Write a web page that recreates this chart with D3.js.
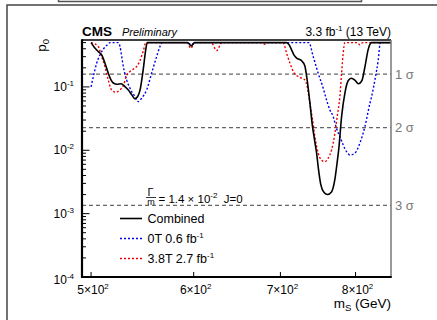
<!DOCTYPE html>
<html>
<head>
<meta charset="utf-8">
<script src="https://cdn.jsdelivr.net/npm/d3@7"></script>
<style>
  html, body { margin: 0; padding: 0; background: #fff; }
  svg { display: block; font-family: "Liberation Sans", Arial, Helvetica, sans-serif; }
</style>
</head>
<body>
<svg id="chart" width="437" height="320"></svg>
<script>
// Local p-value scan vs resonance mass (Gamma/m = 1.4e-2, J=0)
const combinedMass = [500, 503, 506.5, 509.5, 512.5, 515.5, 518, 520.5, 523.5, 527.5, 531, 534, 537.5, 540.5, 543, 545.5, 548.5, 551, 552.5,
  593.5, 597.5, 601, 707.7, 711, 714, 717, 720.5, 726.5, 731, 734, 737.5, 741, 744, 746.5, 749, 752, 756.5, 761, 766.5, 771, 774.5, 776.5,
  780.5, 785, 789.5, 794, 799, 804, 809, 813.5, 818, 823, 852];
const combinedP0 = [0.5, 0.42, 0.36, 0.32, 0.237, 0.165, 0.129, 0.114, 0.110, 0.112, 0.101, 0.090, 0.075, 0.065, 0.070, 0.090, 0.186, 0.384, 0.5,
  0.5, 0.445, 0.5, 0.5, 0.46, 0.384, 0.32, 0.284, 0.262, 0.215, 0.13, 0.058, 0.024, 0.014, 0.009, 0.005, 0.0029, 0.00215, 0.002, 0.0022, 0.0034, 0.0068, 0.0105,
  0.035, 0.08, 0.125, 0.137, 0.128, 0.112, 0.125, 0.209, 0.384, 0.5, 0.5];

const field0TMass = [500, 502, 505, 508, 511, 514, 517, 524.8, 526.4, 528, 529.5, 532.6, 535.8, 537.4, 540.5, 542.2, 543.7, 547, 551.9, 556.8, 561.8, 565.1, 567.4,
  593.5, 597.5, 601, 736.3, 742, 748.6, 755.3, 759.8, 764.3, 768.8, 773, 778, 787.3, 792, 799, 806.2, 813.4, 820.7, 823.1, 828, 832.9, 836, 852];
const field0TP0 = [0.1, 0.1455, 0.237, 0.32, 0.396, 0.45, 0.5, 0.5, 0.433, 0.301, 0.209, 0.129, 0.0953, 0.0843, 0.0703, 0.0608, 0.0586, 0.0663, 0.0897, 0.1646, 0.301, 0.433, 0.5,
  0.5, 0.46, 0.5, 0.5, 0.301, 0.1646, 0.0953, 0.0623, 0.0433, 0.034, 0.0228, 0.0164, 0.0095, 0.00843, 0.009, 0.013, 0.0237, 0.0553, 0.0703, 0.129, 0.267, 0.5, 0.5];

const field38TMass = [500, 502, 506.5, 509.5, 512.5, 515.5, 518.5, 522.3, 526.4, 529.5, 532.6, 535.8, 538.9, 542.2, 545.4, 548.6, 551.2,
  593, 597, 601, 619, 625, 631, 677, 681, 685, 703.5, 707.7, 712, 716.2, 722.6, 726.8, 731.1, 734.1, 737.6, 741.2, 744.2, 748.6, 753, 757.5, 762, 766.6, 771.2, 774.3, 778, 780.4, 782.6, 784.9,
  803, 806.2, 810, 852];
const field38TP0 = [0.5, 0.49, 0.433, 0.301, 0.209, 0.129, 0.0897, 0.0825, 0.0897, 0.105, 0.15, 0.175, 0.19, 0.21, 0.26, 0.37, 0.5,
  0.5, 0.408, 0.5, 0.5, 0.375, 0.5, 0.5, 0.47, 0.5, 0.5, 0.34, 0.237, 0.174, 0.1455, 0.137, 0.129, 0.101, 0.0553, 0.0302, 0.0164, 0.009, 0.007, 0.0066, 0.0075, 0.0101, 0.0186, 0.034, 0.0703, 0.1646, 0.34, 0.5,
  0.5, 0.46, 0.5, 0.5];

const xTickValues = [500, 600, 700, 800];
const xTickMantissa = ["5", "6", "7", "8"];
const yTickExponents = [-4, -3, -2, -1];
const sigmaP0 = [0.1587, 0.02275, 0.00135];
const sigmaLabels = ["1 σ", "2 σ", "3 σ"];
const legendLabels = ["Combined", "0T 0.6 fb", "3.8T 2.7 fb"];

const svg = d3.select("#chart");
const L = 82, R = 391, T = 40, B = 277;

const x = d3.scaleLog().domain([492, 852]).range([L, R]);
const y = d3.scaleLog().domain([1e-4, 0.55]).range([B, T]);

// outer pad frame pieces
svg.append("path").attr("d", "M7,320 V5 H437").attr("fill", "none").attr("stroke", "#444").attr("stroke-width", 1.5);
svg.append("path").attr("d", "M58.5,0 V1.5 H361.5 V0").attr("fill", "none").attr("stroke", "#555").attr("stroke-width", 1.5);

svg.append("defs").append("clipPath").attr("id", "plotclip")
  .append("rect").attr("x", L).attr("y", T).attr("width", R - L).attr("height", B - T);

// significance reference lines
svg.append("g").selectAll("line").data(sigmaP0).join("line")
  .attr("x1", L).attr("x2", R).attr("y1", d => y(d)).attr("y2", d => y(d))
  .attr("stroke", "#666").attr("stroke-width", 1.2).attr("stroke-dasharray", "4,3");
svg.append("g").selectAll("text").data(sigmaLabels).join("text")
  .attr("x", 395).attr("y", (d, i) => y(sigmaP0[i]) + 4.5)
  .attr("font-size", 13).attr("fill", "#777").text(d => d);

// curves
const line = d3.line().x(d => x(d[0])).y(d => y(d[1])).curve(d3.curveMonotoneX);
const curves = svg.append("g").attr("clip-path", "url(#plotclip)");
curves.append("path").datum(d3.zip(field0TMass, field0TP0)).attr("d", line)
  .attr("fill", "none").attr("stroke", "#0000ee").attr("stroke-width", 1.4).attr("stroke-dasharray", "2,2");
curves.append("path").datum(d3.zip(field38TMass, field38TP0)).attr("d", line)
  .attr("fill", "none").attr("stroke", "#ee0000").attr("stroke-width", 1.4).attr("stroke-dasharray", "2,2");
curves.append("path").datum(d3.zip(combinedMass, combinedP0)).attr("d", line)
  .attr("fill", "none").attr("stroke", "#000").attr("stroke-width", 1.6);

// frame
svg.append("line").attr("x1", L).attr("x2", R).attr("y1", T).attr("y2", T).attr("stroke", "#000").attr("stroke-width", 1.6);
svg.append("line").attr("x1", R).attr("x2", R).attr("y1", T).attr("y2", B).attr("stroke", "#777").attr("stroke-width", 1.5);
svg.append("line").attr("x1", L).attr("x2", R + 0.75).attr("y1", B).attr("y2", B).attr("stroke", "#000").attr("stroke-width", 2);
svg.append("line").attr("x1", L).attr("x2", L).attr("y1", T - 0.8).attr("y2", B + 1).attr("stroke", "#000").attr("stroke-width", 2.2);

// y ticks (inward), major at decades
const yTicks = y.ticks();
svg.append("g").selectAll("line").data(yTicks).join("line")
  .attr("x1", L).attr("x2", d => L + (Math.abs(Math.log10(d) - Math.round(Math.log10(d))) < 1e-6 ? 7.5 : 4))
  .attr("y1", d => y(d)).attr("y2", d => y(d))
  .attr("stroke", "#000").attr("stroke-width", 1);

const yLab = svg.append("g").selectAll("text").data(yTickExponents).join("text")
  .attr("x", 74).attr("y", d => y(Math.pow(10, d)) + 4 + (d === -4 ? 3 : 0))
  .attr("text-anchor", "end").attr("font-size", 12).attr("fill", "#000");
yLab.append("tspan").text("10");
yLab.append("tspan").attr("font-size", 8).attr("dy", -5).text(d => String(d));

// x ticks (inward)
svg.append("g").selectAll("line").data(xTickValues).join("line")
  .attr("x1", d => x(d)).attr("x2", d => x(d)).attr("y1", B).attr("y2", B - 5)
  .attr("stroke", "#000").attr("stroke-width", 1);
const xLab = svg.append("g").selectAll("text").data(xTickValues).join("text")
  .attr("x", d => x(d) + 2).attr("y", 294).attr("text-anchor", "middle").attr("font-size", 12).attr("fill", "#000");
xLab.append("tspan").text((d, i) => xTickMantissa[i] + "×10");
xLab.append("tspan").attr("font-size", 8).attr("dy", -5).text("2");

// axis titles
const xt = svg.append("text").attr("x", R).attr("y", 307.5).attr("text-anchor", "end").attr("font-size", 13.5).attr("fill", "#000");
xt.append("tspan").text("m");
xt.append("tspan").attr("font-size", 9.5).attr("dy", 3).text("S");
xt.append("tspan").attr("dy", -3).text(" (GeV)");

const yt = svg.append("text").attr("transform", "translate(46,39) rotate(-90)").attr("text-anchor", "end").attr("font-size", 13.5).attr("fill", "#000");
yt.append("tspan").text("p");
yt.append("tspan").attr("font-size", 9.5).attr("dy", 3).text("0");

// header
svg.append("text").attr("x", 82).attr("y", 36).attr("font-size", 13.5).attr("font-weight", "bold").text("CMS");
svg.append("text").attr("x", 122).attr("y", 36).attr("font-size", 11).attr("font-style", "italic").text("Preliminary");
const lumi = svg.append("text").attr("x", R).attr("y", 36).attr("text-anchor", "end").attr("font-size", 12);
lumi.append("tspan").text("3.3 fb");
lumi.append("tspan").attr("font-size", 8).attr("dy", -5).text("-1");
lumi.append("tspan").attr("dy", 5).text(" (13 TeV)");

// model label: Gamma/m = 1.4 x 10^-2, J=0
const model = svg.append("g");
model.append("text").attr("x", 150.5).attr("y", 195.5).attr("text-anchor", "middle").attr("font-size", 11).text("Γ");
model.append("line").attr("x1", 146).attr("x2", 156).attr("y1", 197.5).attr("y2", 197.5).attr("stroke", "#000").attr("stroke-width", 0.8);
model.append("text").attr("x", 151).attr("y", 204.5).attr("text-anchor", "middle").attr("font-size", 9).text("m");
const eq = model.append("text").attr("x", 158.5).attr("y", 202.5).attr("font-size", 11.5).attr("xml:space", "preserve");
eq.append("tspan").text("= 1.4 × 10");
eq.append("tspan").attr("font-size", 8).attr("dy", -5).text("-2");
eq.append("tspan").attr("dy", 5).text("  J=0");

// legend
const legendStroke = ["#000", "#0000ee", "#ee0000"];
const legendDash = [null, "2,2", "2,2"];
const lg = svg.append("g").selectAll("g").data(legendLabels).join("g")
  .attr("transform", (d, i) => `translate(0,${218.5 + i * 20})`);
lg.append("line").attr("x1", 120).attr("x2", 142).attr("y1", 0).attr("y2", 0)
  .attr("stroke", (d, i) => legendStroke[i]).attr("stroke-width", (d, i) => i === 0 ? 1.6 : 1.4)
  .attr("stroke-dasharray", (d, i) => legendDash[i]);
const lt = lg.append("text").attr("x", 147.5).attr("y", 4.5).attr("font-size", 12.5);
lt.append("tspan").text(d => d);
lt.filter((d, i) => i > 0).append("tspan").attr("font-size", 8).attr("dy", -5).text("-1");
</script>
</body>
</html>
